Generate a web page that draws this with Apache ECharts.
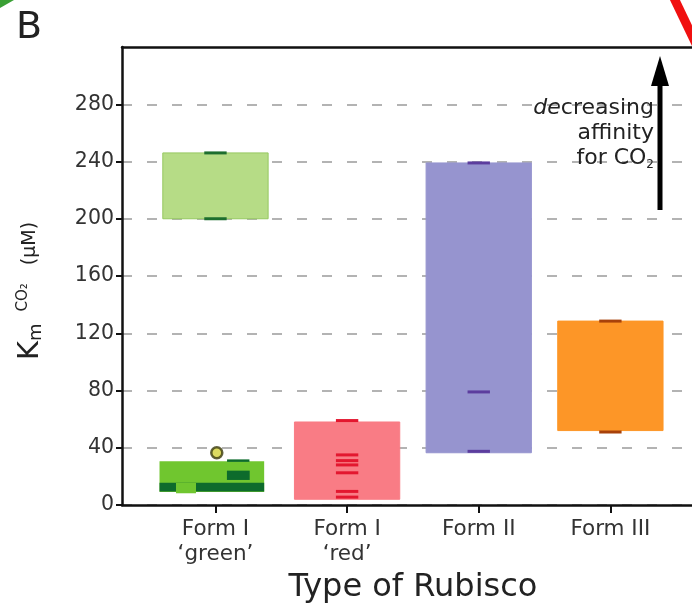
<!DOCTYPE html>
<html>
<head>
<meta charset="utf-8">
<script src="https://cdn.jsdelivr.net/npm/echarts@6.0.0/dist/echarts.min.js"></script>
<style>
html,body{margin:0;padding:0;background:#fff;}
#chart{width:692px;height:603px;}
</style>
</head>
<body>
<div id="chart"></div>
<script>
// ---- data ----
const categories = ["Form I\n\u2018green\u2019", "Form I\n\u2018red\u2019", "Form II", "Form III"];
const xPositions = [1, 2, 3, 4];
const yTicks = [0, 40, 80, 120, 160, 200, 240, 280];

// main range boxes (low, high) per category
const boxLow  = [200, 4, 36.5, 52];
const boxHigh = [246, 58, 239, 128.5];

// individual measurements (short horizontal marks)
const greenMarks = [246, 200];
const redMarks = [59, 35, 31, 28, 22.5, 9.5, 5.5];
const form2Marks = [239, 79, 37.5];
const form3Marks = [128.5, 51];

// Form I green: lower cluster
const greenLowBox = [9, 30.5];
const greenLowBand = [9.5, 15.5];
const greenLowBandGap = [8.2, 15.5];
const greenLowBlock = [17.5, 24];
const greenLowMark = [31];
const greenOutlier = [36.5];

// ---- styles ----
const FONT = 'DejaVu Sans';
const boxColors = ['#b6dc86', '#f97c85', '#9694cf', '#fd9627'];
const boxBorders = ['#96c860', '#f97c85', '#9694cf', '#fd9627'];
const markColors = ['#1d6e2e', '#e3172f', '#5c3d9e', '#a8420a'];
const BOX_HW = 0.4;
const MARK_HW = 0.085;

function rectItem(api, x0, x1, lo, hi, fill, stroke) {
  const p1 = api.coord([x0, hi]);
  const p2 = api.coord([x1, lo]);
  return {
    type: 'rect',
    shape: { x: p1[0], y: p1[1], width: p2[0] - p1[0], height: p2[1] - p1[1] },
    style: { fill: fill, stroke: stroke || null, lineWidth: stroke ? 1 : 0 }
  };
}
function markItem(api, x, v, color, hw, th) {
  const p1 = api.coord([x - hw, v]);
  const p2 = api.coord([x + hw, v]);
  return {
    type: 'rect',
    shape: { x: p1[0], y: p1[1] - th / 2, width: p2[0] - p1[0], height: th },
    style: { fill: color }
  };
}

const series = [];
// main boxes
series.push({
  type: 'custom', name: 'boxes', z: 2,
  data: xPositions.map((x, i) => [x, boxLow[i], boxHigh[i], i]),
  renderItem: (params, api) => {
    const i = api.value(3);
    return rectItem(api, api.value(0) - BOX_HW, api.value(0) + BOX_HW, api.value(1), api.value(2), boxColors[i], boxBorders[i]);
  }
});
// green lower cluster box
series.push({
  type: 'custom', name: 'greenLowBox', z: 2,
  data: [[xPositions[0], greenLowBox[0], greenLowBox[1]]],
  renderItem: (params, api) => rectItem(api, api.value(0) - 0.425, api.value(0) + 0.37, api.value(1), api.value(2), '#70c62f')
});
series.push({
  type: 'custom', name: 'greenLowBand', z: 3,
  data: [[xPositions[0], greenLowBand[0], greenLowBand[1]]],
  renderItem: (params, api) => rectItem(api, api.value(0) - 0.425, api.value(0) + 0.37, api.value(1), api.value(2), '#0d6b2c')
});
series.push({
  type: 'custom', name: 'greenLowBandGap', z: 4,
  data: [[xPositions[0], greenLowBandGap[0], greenLowBandGap[1]]],
  renderItem: (params, api) => rectItem(api, api.value(0) - 0.30, api.value(0) - 0.148, api.value(1), api.value(2), '#70c62f')
});
series.push({
  type: 'custom', name: 'greenLowBlock', z: 4,
  data: [[xPositions[0], greenLowBlock[0], greenLowBlock[1]]],
  renderItem: (params, api) => rectItem(api, api.value(0) + 0.087, api.value(0) + 0.26, api.value(1), api.value(2), '#0d6b2c')
});
series.push({
  type: 'custom', name: 'greenLowMark', z: 4,
  data: greenLowMark.map(v => [xPositions[0], v]),
  renderItem: (params, api) => markItem(api, api.value(0) + 0.173, api.value(1), '#0d6b2c', 0.085, 2.5)
});
// measurement marks
const markSets = [greenMarks, redMarks, form2Marks, form3Marks];
markSets.forEach((arr, i) => {
  series.push({
    type: 'custom', name: 'marks' + i, z: 5,
    data: arr.map(v => [xPositions[i], v]),
    renderItem: (params, api) => markItem(api, api.value(0), api.value(1), markColors[i], MARK_HW, 3)
  });
});
// outlier circle
series.push({
  type: 'scatter', name: 'outlier', z: 6,
  data: greenOutlier.map(v => [xPositions[0] + 0.01, v]),
  symbol: 'circle', symbolSize: 11,
  itemStyle: { color: '#d6d23a', borderColor: '#3a3a0e', borderWidth: 2.5 }
});

const axisLineStyle = { color: '#111', width: 2.5 };

const option = {
  backgroundColor: '#fff',
  animation: false,
  grid: { left: 122, right: 0, top: 47, bottom: 98, containLabel: false, outerBoundsMode: 'none' },
  xAxis: [{
    type: 'value', position: 'bottom', min: 0.29, max: 4.62,
    axisLine: { show: true, onZero: false, lineStyle: axisLineStyle },
    axisTick: { show: true, customValues: xPositions, length: 8, lineStyle: { color: '#111', width: 2 } },
    axisLabel: {
      customValues: xPositions, margin: 12,
      formatter: v => categories[Math.round(v) - 1],
      fontFamily: FONT, fontSize: 21.5, lineHeight: 25, color: '#333'
    },
    splitLine: { show: false },
    name: 'Type of Rubisco', nameLocation: 'middle', nameGap: 66,
    nameTextStyle: { fontFamily: FONT, fontSize: 32, color: '#222', padding: [0, 0, 0, 12] }
  }, {
    type: 'value', position: 'top', min: 0.29, max: 4.62,
    axisLine: { show: true, onZero: false, lineStyle: axisLineStyle },
    axisTick: { show: false }, axisLabel: { show: false }, splitLine: { show: false }
  }],
  yAxis: {
    type: 'value', min: 0, max: 320, interval: 40,
    axisLine: { show: true, onZero: false, lineStyle: axisLineStyle },
    axisTick: { show: true, customValues: yTicks, length: 6, lineStyle: { color: '#111', width: 2 } },
    axisLabel: { customValues: yTicks, margin: 8, fontFamily: FONT, fontSize: 20.5, color: '#333' },
    splitLine: { show: true, lineStyle: { color: '#b3b3b3', width: 2, type: [10, 15] } },
    name: '{K|K}{m|m}{sup|CO\u2082}{u|(\u03bcM)}',
    nameLocation: 'middle', nameRotate: 90, nameGap: 77,
    nameTextStyle: {
      color: '#222', padding: [0, 30, 0, 0],
      rich: {
        K: { fontFamily: FONT, fontSize: 29, color: '#222' },
        m: { fontFamily: FONT, fontSize: 18, color: '#222', verticalAlign: 'bottom', padding: [0, 12, 0, 0] },
        sup: { fontFamily: FONT, fontSize: 15, color: '#222', verticalAlign: 'top', padding: [0, 18, 0, 0] },
        u: { fontFamily: FONT, fontSize: 19, color: '#222' }
      }
    }
  },
  series: series,
  graphic: [
    { type: 'polygon', shape: { points: [[0, 0], [14, 0], [0, 8]] }, style: { fill: '#3aa035' }, z: 10 },
    { type: 'line', shape: { x1: 674, y1: -2, x2: 697, y2: 46 }, style: { stroke: '#f01010', lineWidth: 9 }, z: 10 },
    { type: 'text', left: 16, top: 9, style: { text: 'B', fontFamily: FONT, fontSize: 38, fill: '#222' }, z: 10 },
    { type: 'line', shape: { x1: 660, y1: 210, x2: 660, y2: 80 }, style: { stroke: '#000', lineWidth: 5 }, z: 10 },
    { type: 'polygon', shape: { points: [[660, 56], [651, 86], [669, 86]] }, style: { fill: '#000' }, z: 10 },
    {
      type: 'text', z: 10, x: 654, y: 96,
      style: {
        text: '{i|de}creasing\naffinity\nfor CO{s|2}',
        align: 'right', verticalAlign: 'top',
        fontFamily: FONT, fontSize: 22, lineHeight: 25, fill: '#222',
        rich: {
          i: { fontFamily: FONT, fontSize: 22, fontStyle: 'italic', fill: '#222' },
          s: { fontFamily: FONT, fontSize: 12, fill: '#222', verticalAlign: 'bottom' }
        }
      }
    }
  ]
};

const chart = echarts.init(document.getElementById('chart'), null, { renderer: 'canvas' });
chart.setOption(option);
</script>
</body>
</html>
